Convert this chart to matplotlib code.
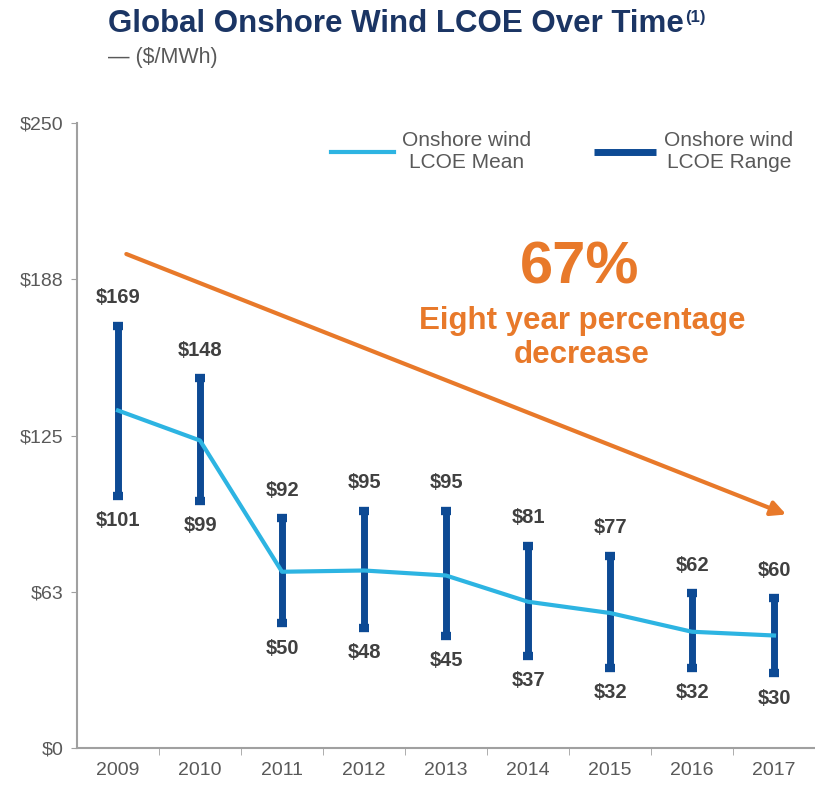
import matplotlib
matplotlib.use("Agg")
import matplotlib.pyplot as plt

plt.rcParams['font.family'] = ['Liberation Sans', 'DejaVu Sans']

# data
years = ["2009", "2010", "2011", "2012", "2013", "2014", "2015", "2016", "2017"]
lcoe_high = [169, 148, 92, 95, 95, 81, 77, 62, 60]
lcoe_low = [101, 99, 50, 48, 45, 37, 32, 32, 30]
lcoe_mean = [135, 123, 70.5, 71, 69, 58.5, 54, 46.5, 45]
y_ticks = [0, 62.5, 125, 187.5, 250]
y_tick_labels = ["$0", "$63", "$125", "$188", "$250"]

mean_color = "#2DB4E2"
range_color = "#0D4A94"
orange = "#E8792A"
grey = "#595959"
navy = "#1B3564"

fig = plt.figure(figsize=(8.15, 7.85), dpi=100)
ax = fig.add_axes([77 / 815, 1 - 748 / 785, 738 / 815, 625 / 785])

x = list(range(len(years)))

# range bars with small caps
ax.vlines(x, lcoe_low, lcoe_high, color=range_color, lw=5, zorder=3,
          label="Onshore wind\nLCOE Range")
ax.plot(x, lcoe_high, ls="", marker="_", ms=7, mew=6, color=range_color, zorder=3)
ax.plot(x, lcoe_low, ls="", marker="_", ms=7, mew=6, color=range_color, zorder=3)

# mean line
ax.plot(x, lcoe_mean, color=mean_color, lw=3, solid_joinstyle="round", zorder=4,
        label="Onshore wind\nLCOE Mean")

# value labels
for xi, hi, lo in zip(x, lcoe_high, lcoe_low):
    ax.annotate(f"${hi}", (xi, hi), xytext=(0, 20), textcoords="offset points",
                ha="center", va="center", fontsize=14.5, fontweight="bold", color="#404040")
    ax.annotate(f"${lo}", (xi, lo), xytext=(0, -18), textcoords="offset points",
                ha="center", va="center", fontsize=14.5, fontweight="bold", color="#404040")

# trend arrow and callout
ax.annotate("", xy=(8.18, 93), xytext=(0.07, 198),
            arrowprops=dict(arrowstyle="-|>", color=orange, lw=3, mutation_scale=22),
            zorder=2)
ax.text(5.63, 192, "67%", ha="center", va="center", fontsize=43,
        fontweight="bold", color=orange)
ax.text(5.66, 164, "Eight year percentage\ndecrease", ha="center", va="center",
        fontsize=22.5, fontweight="bold", color=orange, linespacing=1.15)

ax.set_xlim(-0.5, 8.5)
ax.set_ylim(0, 250)
ax.set_yticks(y_ticks)
ax.set_yticklabels(y_tick_labels)
ax.set_xticks(x)
ax.set_xticklabels(years)
ax.set_xticks([i + 0.5 for i in x[:-1]], minor=True)
ax.tick_params(axis="x", which="major", length=0, pad=10, labelsize=14, labelcolor=grey)
ax.tick_params(axis="x", which="minor", length=5, color="#A0A0A0")
ax.tick_params(axis="y", length=4, color="#A0A0A0", labelsize=14, labelcolor=grey, pad=6)
for s in ["top", "right"]:
    ax.spines[s].set_visible(False)
for s in ["left", "bottom"]:
    ax.spines[s].set_color("#A0A0A0")
    ax.spines[s].set_linewidth(1.5)

handles, labels = ax.get_legend_handles_labels()
leg = ax.legend(handles[::-1], labels[::-1], ncol=2, frameon=False, fontsize=15,
                loc="center", bbox_to_anchor=(0.69, 1 - 152 / 785),
                bbox_transform=fig.transFigure, handlelength=3.0,
                columnspacing=3.0, handletextpad=0.4, labelcolor=grey)
for t in leg.get_texts():
    t.set_ha("center")

title = fig.text(108 / 815, 1 - 24 / 785, "Global Onshore Wind LCOE Over Time",
                 fontsize=22.5, fontweight="bold", color=navy, va="center", ha="left")
ax.annotate("(1)", xy=(1, 1), xycoords=title, xytext=(1, -1), textcoords="offset points",
            fontsize=12, fontweight="bold", color=navy, va="top", ha="left")
fig.text(108 / 815, 1 - 57 / 785, "— ($/MWh)", fontsize=15.5, color=grey,
         va="center", ha="left")

fig.savefig("out.png", dpi=100)
